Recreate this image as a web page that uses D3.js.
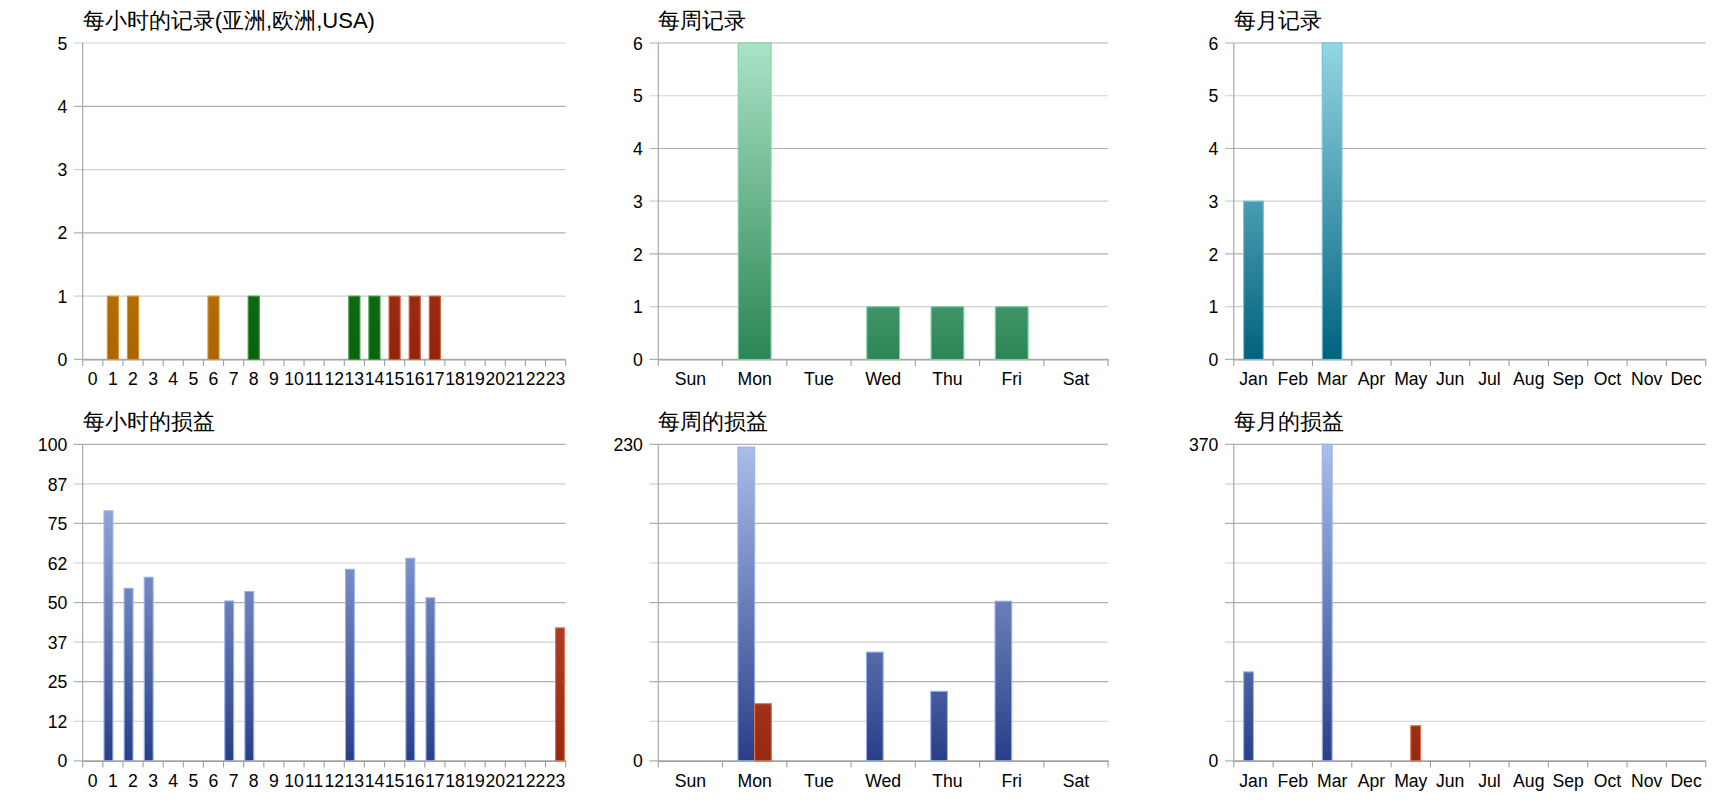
<!DOCTYPE html><html><head><meta charset="utf-8">
<script src="https://cdn.jsdelivr.net/npm/d3@7"></script>
<style>body{margin:0;background:#fff}text{font-family:"Liberation Sans",Arial,sans-serif}</style></head><body>
<svg id="c" width="1720" height="800"></svg>
<script>
const hours = d3.range(24).map(String);
const weekdays = ["Sun","Mon","Tue","Wed","Thu","Fri","Sat"];
const months = ["Jan","Feb","Mar","Apr","May","Jun","Jul","Aug","Sep","Oct","Nov","Dec"];
// hourly record counts by region
const hourAsia =   [0,1,1,0,0,0,1,0,0,0,0,0,0,0,0,0,0,0,0,0,0,0,0,0];
const hourEurope = [0,0,0,0,0,0,0,0,1,0,0,0,0,1,1,0,0,0,0,0,0,0,0,0];
const hourUSA =    [0,0,0,0,0,0,0,0,0,0,0,0,0,0,0,1,1,1,0,0,0,0,0,0];
const weekCount = [0,6,0,1,1,1,0];
const monthCount = [3,0,6,0,0,0,0,0,0,0,0,0];
// P&L: profit (blue) and loss (red)
const hourProfit = [0,79,54.5,58,0,0,0,50.5,53.5,0,0,0,0,60.5,0,0,64,51.5,0,0,0,0,0,0];
const hourLoss =   [0,0,0,0,0,0,0,0,0,0,0,0,0,0,0,0,0,0,0,0,0,0,0,42];
const weekProfit = [0,228,0,79,50.5,116,0];
const weekLoss =   [0,41.5,0,0,0,0,0];
const monthProfit = [104,0,370,0,0,0,0,0,0,0,0,0];
const monthLoss =   [0,0,0,0,41,0,0,0,0,0,0,0];
const hourTicks = [0,12.5,25,37.5,50,62.5,75,87.5,100];

const svg = d3.select("#c");
const defs = svg.append("defs");
const root = svg.append("g").attr("transform","scale(1.1026)");
function grad(id,top,bot,y0,y1){
  const g=defs.append("linearGradient").attr("id",id).attr("gradientUnits","userSpaceOnUse").attr("x1",0).attr("x2",0).attr("y1",y0).attr("y2",y1);
  g.append("stop").attr("offset",0).attr("stop-color",top);
  g.append("stop").attr("offset",1).attr("stop-color",bot);
}
const rows=[{t:39,b:326},{t:403,b:690}];
const cols=[{l:75,r:513},{l:597,r:1005},{l:1119,r:1547}];

function panel(o){
  const {col,row,title,cats,max,ticks,tickFmt,series,pad,grouped,labelAll}=o;
  const g=root.append("g");
  const x=d3.scaleBand().domain(cats).range([col.l,col.r]).paddingInner(0).paddingOuter(0);
  const y=d3.scaleLinear().domain([0,max]).range([row.b,row.t]);
  g.selectAll(".gl").data(ticks).enter().append("line").attr("x1",col.l-8).attr("x2",col.r).attr("y1",d=>y(d)).attr("y2",d=>y(d)).attr("stroke",(d,i)=>i%2?"#d0d0d0":"#b0b0b0").attr("stroke-width",1.1);
  g.selectAll(".yl").data(ticks.filter(labelAll?()=>true:(d=>d===0||d===max))).enter().append("text").attr("x",col.l-14).attr("y",d=>y(d)+6).attr("text-anchor","end").attr("font-size",16).text(tickFmt);
  g.append("line").attr("x1",col.l).attr("x2",col.l).attr("y1",row.t).attr("y2",row.b).attr("stroke","#a0a0a0");
  const xa=g.append("g").attr("transform",`translate(0,${row.b})`).call(d3.axisBottom(x).tickSize(0).tickPadding(12));
  xa.select(".domain").attr("stroke","#a0a0a0");
  xa.selectAll("text").attr("font-size",16).attr("fill","#000").style("font-family","Liberation Sans, Arial, sans-serif");
  g.selectAll(".xt").data(d3.range(cats.length+1)).enter().append("line").attr("x1",i=>col.l+i*x.step()).attr("x2",i=>col.l+i*x.step()).attr("y1",row.b).attr("y2",row.b+6).attr("stroke","#a0a0a0");
  const bw=x.bandwidth()*pad;
  series.forEach((s,si)=>{
    cats.forEach((c,i)=>{
      const v=s.values[i]; if(!v) return;
      let x0;
      if(grouped){ x0=x(c)+x.bandwidth()/2+(si===0?-bw/2:0); }
      else x0=x(c)+(x.bandwidth()-bw)/2;
      const w=grouped?bw/2:bw;
      g.append("rect").attr("x",x0).attr("width",w).attr("y",y(v)).attr("height",row.b-y(v)).attr("fill",`url(#${s.grad})`).attr("stroke",s.stroke).attr("stroke-width",1);
    });
  });
  g.append("text").attr("x",col.l).attr("y",row.t-14).attr("font-size",20).attr("font-family","Noto Sans CJK SC, sans-serif").text(title);
}
grad("gOr","#c98428","#ac6600",39,326);
grad("gGr","#2c8034","#0a620c",39,326);
grad("gRd","#b04a38","#922408",39,326);
grad("gWk","#aae3c6","#2b8555",39,326);
grad("gMo","#94d6e4","#00627e",39,326);
grad("gBl","#aabfec","#283f88",403,690);
grad("gRd2","#c05a40","#962a10",403,690);

panel({col:cols[0],row:rows[0],title:"每小时的记录(亚洲,欧洲,USA)",cats:hours,max:5,ticks:[0,1,2,3,4,5],tickFmt:d=>d,pad:0.55,labelAll:true,
  series:[{values:hourAsia,grad:"gOr",stroke:"#e09030"},{values:hourEurope,grad:"gGr",stroke:"#3a9a40"},{values:hourUSA,grad:"gRd",stroke:"#d06040"}]});
panel({col:cols[1],row:rows[0],title:"每周记录",cats:weekdays,max:6,ticks:[0,1,2,3,4,5,6],tickFmt:d=>d,pad:0.51,labelAll:true,
  series:[{values:weekCount,grad:"gWk",stroke:"#7fd0a8"}]});
panel({col:cols[2],row:rows[0],title:"每月记录",cats:months,max:6,ticks:[0,1,2,3,4,5,6],tickFmt:d=>d,pad:0.5,labelAll:true,
  series:[{values:monthCount,grad:"gMo",stroke:"#70c0d8"}]});
panel({col:cols[0],row:rows[1],title:"每小时的损益",cats:hours,max:100,ticks:hourTicks,tickFmt:d=>Math.floor(d),pad:0.88,grouped:true,labelAll:true,
  series:[{values:hourProfit,grad:"gBl",stroke:"#9ab0e8"},{values:hourLoss,grad:"gRd2",stroke:"#e07050"}]});
panel({col:cols[1],row:rows[1],title:"每周的损益",cats:weekdays,max:230,ticks:d3.range(9).map(i=>i*230/8),tickFmt:d=>d,pad:0.52,grouped:true,labelAll:false,
  series:[{values:weekProfit,grad:"gBl",stroke:"#9ab0e8"},{values:weekLoss,grad:"gRd2",stroke:"#e07050"}]});
panel({col:cols[2],row:rows[1],title:"每月的损益",cats:months,max:370,ticks:d3.range(9).map(i=>i*370/8),tickFmt:d=>d,pad:0.5,grouped:true,labelAll:false,
  series:[{values:monthProfit,grad:"gBl",stroke:"#9ab0e8"},{values:monthLoss,grad:"gRd2",stroke:"#e07050"}]});
</script></body></html>
